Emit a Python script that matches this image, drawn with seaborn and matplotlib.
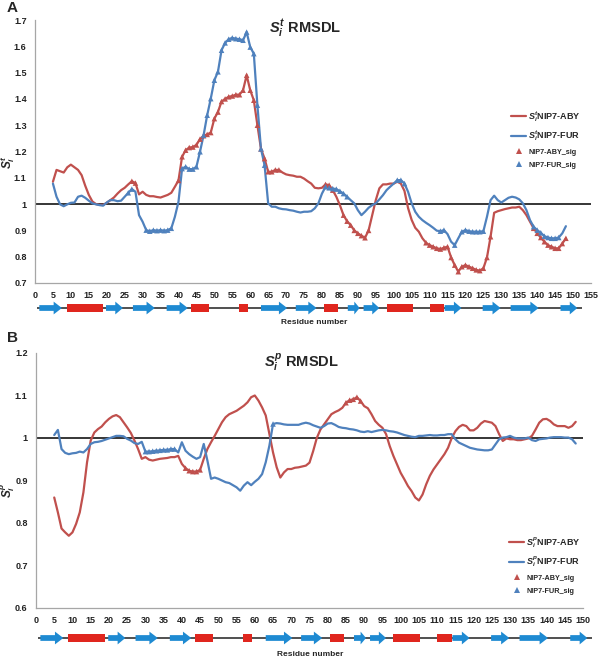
import numpy as np
import pandas as pd
import matplotlib
matplotlib.use("Agg")
import matplotlib.pyplot as plt
import seaborn as sns
from matplotlib.patches import Polygon, Rectangle
from matplotlib.lines import Line2D
from matplotlib.ticker import FuncFormatter, MultipleLocator

sns.set_theme(style="white")
plt.rcParams["font.family"] = ["Liberation Sans", "DejaVu Sans"]
plt.rcParams["font.weight"] = "bold"
plt.rcParams["mathtext.fontset"] = "custom"
plt.rcParams["mathtext.it"] = "Liberation Sans:italic:bold"
plt.rcParams["mathtext.rm"] = "Liberation Sans:bold"
plt.rcParams["mathtext.bf"] = "Liberation Sans:bold"

# ---------------- data ----------------
residues = list(range(5, 149))

a_aby = [1.085, 1.13, 1.125, 1.12, 1.14, 1.15, 1.14, 1.13, 1.11, 1.07,
         1.035, 1.01, 1.0, 0.997, 0.997, 1.005, 1.015, 1.025, 1.04, 1.053,
         1.062, 1.075, 1.087, 1.08, 1.037, 1.047, 1.035, 1.03, 1.03, 1.027,
         1.025, 1.03, 1.035, 1.043, 1.066, 1.09, 1.18, 1.205, 1.215, 1.217,
         1.225, 1.247, 1.26, 1.265, 1.272, 1.325, 1.35, 1.39, 1.40, 1.408,
         1.411, 1.416, 1.416, 1.433, 1.49, 1.433, 1.395, 1.30, 1.21, 1.173,
         1.123, 1.123, 1.13, 1.13, 1.12, 1.113, 1.11, 1.108, 1.104, 1.104,
         1.097, 1.087, 1.078, 1.062, 1.06, 1.062, 1.075, 1.072, 1.053, 1.028,
         0.996, 0.958, 0.935, 0.92, 0.90, 0.889, 0.88, 0.872, 0.90, 0.958,
         1.015, 1.06, 1.075, 1.075, 1.078, 1.078, 1.085, 1.078, 1.05, 0.985,
         0.94, 0.91, 0.895, 0.87, 0.853, 0.844, 0.838, 0.832, 0.829, 0.834,
         0.838, 0.797, 0.768, 0.743, 0.762, 0.768, 0.762, 0.756, 0.75, 0.747,
         0.756, 0.797, 0.876, 0.967, 0.973, 0.977, 0.981, 0.984, 0.987, 0.987,
         0.99, 0.977, 0.958, 0.933, 0.908, 0.889, 0.873, 0.857, 0.844, 0.838,
         0.832, 0.832, 0.85, 0.87]

a_fur = [1.078, 1.028, 0.999, 0.992, 0.999, 1.005, 1.006, 1.028, 1.032, 1.024,
         1.013, 1.003, 0.999, 0.996, 0.994, 1.006, 1.015, 1.015, 1.011, 1.013,
         1.028, 1.043, 1.057, 1.047, 0.958, 0.933, 0.901, 0.897, 0.901, 0.899,
         0.901, 0.899, 0.901, 0.908, 0.952, 1.009, 1.135, 1.142, 1.133, 1.133,
         1.142, 1.199, 1.262, 1.338, 1.401, 1.471, 1.503, 1.585, 1.613, 1.627,
         1.632, 1.629, 1.627, 1.623, 1.654, 1.597, 1.572, 1.376, 1.21, 1.148,
         1.003, 0.99, 0.99, 0.984, 0.981, 0.98, 0.977, 0.975, 0.971, 0.968,
         0.971, 0.971, 0.973, 0.984, 1.003, 1.04, 1.066, 1.062, 1.059, 1.057,
         1.049, 1.04, 1.028, 1.015, 1.003, 0.977, 0.958, 0.971, 0.986, 0.996,
         1.003, 1.018, 1.034, 1.053, 1.066, 1.078, 1.091, 1.091, 1.078, 1.047,
         1.003, 0.971, 0.952, 0.939, 0.929, 0.92, 0.91, 0.899, 0.897, 0.901,
         0.886, 0.857, 0.844, 0.87, 0.895, 0.901, 0.897, 0.895, 0.895, 0.895,
         0.897, 0.952, 1.015, 1.032, 1.015, 1.006, 1.015, 1.024, 1.028, 1.025,
         1.018, 1.003, 0.977, 0.939, 0.914, 0.901, 0.891, 0.878, 0.873, 0.87,
         0.87, 0.873, 0.889, 0.916]

b_aby = [0.860, 0.825, 0.787, 0.778, 0.770, 0.778, 0.798, 0.825, 0.872, 0.943,
         0.994, 1.013, 1.021, 1.027, 1.037, 1.045, 1.051, 1.054, 1.049, 1.037,
         1.025, 1.012, 0.994, 0.974, 0.951, 0.955, 0.949, 0.947, 0.949, 0.951,
         0.952, 0.953, 0.955, 0.955, 0.958, 0.939, 0.929, 0.923, 0.921, 0.921,
         0.925, 0.951, 0.974, 0.99, 1.005, 1.021, 1.037, 1.049, 1.056, 1.06,
         1.064, 1.07, 1.076, 1.084, 1.096, 1.10, 1.088, 1.072, 1.053, 1.009,
         0.966, 0.931, 0.907, 0.919, 0.927, 0.927, 0.93, 0.931, 0.933, 0.935,
         0.942, 0.969, 1.0, 1.02, 1.032, 1.044, 1.056, 1.061, 1.065, 1.071,
         1.083, 1.089, 1.091, 1.096, 1.087, 1.075, 1.07, 1.056, 1.04, 1.031,
         1.024, 1.009, 0.981, 0.958, 0.938, 0.918, 0.903, 0.887, 0.875, 0.86,
         0.853, 0.867, 0.891, 0.911, 0.926, 0.938, 0.95, 0.962, 0.977, 1.0,
         1.016, 1.026, 1.031, 1.028, 1.018, 1.018, 1.024, 1.034, 1.04, 1.038,
         1.036, 1.028, 1.009, 0.993, 0.999, 0.997, 0.997, 0.995, 0.995, 0.997,
         0.999, 1.005, 1.02, 1.036, 1.044, 1.045, 1.04, 1.032, 1.028, 1.028,
         1.028, 1.024, 1.028, 1.038]

b_fur = [1.007, 1.019, 0.974, 0.965, 0.962, 0.964, 0.965, 0.968, 0.966, 0.974,
         0.986, 0.99, 0.991, 0.993, 0.996, 0.999, 1.002, 1.005, 1.005, 1.004,
         0.998, 0.994, 0.988, 0.986, 0.991, 0.968, 0.968, 0.969, 0.970, 0.971,
         0.972, 0.972, 0.974, 0.974, 0.966, 0.99, 0.97, 0.962, 0.956, 0.951,
         0.955, 0.986, 0.947, 0.904, 0.907, 0.904, 0.90, 0.896, 0.894, 0.889,
         0.884, 0.876, 0.888, 0.896, 0.889, 0.897, 0.904, 0.915, 0.943, 0.982,
         1.033, 1.035, 1.034, 1.032, 1.031, 1.031, 1.031, 1.031, 1.034, 1.036,
         1.034, 1.03, 1.027, 1.024, 1.028, 1.034, 1.035, 1.031, 1.026, 1.024,
         1.023, 1.021, 1.02, 1.018, 1.015, 1.014, 1.016, 1.014, 1.016, 1.018,
         1.019, 1.018, 1.016, 1.015, 1.013, 1.01, 1.007, 1.005, 1.003, 1.002,
         1.005, 1.005, 1.006, 1.007, 1.006, 1.006, 1.007, 1.007, 1.009, 1.009,
         0.997, 0.989, 0.985, 0.981, 0.977, 0.975, 0.973, 0.972, 0.971, 0.971,
         0.973, 0.985, 0.997, 1.001, 1.002, 1.005, 1.001, 0.999, 0.999, 0.999,
         1.001, 0.995, 0.993, 0.997, 0.998, 0.999, 1.001, 1.002, 1.002, 1.002,
         1.001, 1.001, 0.997, 0.987]

# residues flagged as significant
a_aby_sig = [27, 28] + list(range(40, 69)) + [81, 82, 83] + list(range(86, 94)) \
    + list(range(109, 128)) + list(range(139, 149))
a_fur_sig = [26, 27] + list(range(31, 39)) + list(range(41, 65)) + list(range(81, 88)) \
    + [101, 102, 103, 113, 114, 117] + list(range(119, 126)) + list(range(139, 147))
b_aby_sig = list(range(41, 46)) + list(range(85, 90))
b_fur_sig = list(range(30, 39)) + [65]

# secondary structure elements (residue start, end)
strands = [(1.2, 7.5), (19.8, 24.5), (27.3, 33.4), (36.7, 42.6), (63.0, 70.3),
           (72.7, 78.5), (87.2, 90.5), (91.6, 96.0), (114.2, 118.9), (124.8, 129.8),
           (132.6, 140.4), (146.5, 151.2)]
helices = [(8.9, 19.0), (43.5, 48.5), (56.8, 59.3), (80.5, 84.4), (98.0, 105.3),
           (110.0, 114.0)]
ss_span = (0.6, 152.4)

RED = "#C0504D"
BLUE = "#4F81BD"
ARROW_BLUE = "#1E8AD2"
HELIX_RED = "#E0261E"

W, H = 600, 663
fig = plt.figure(figsize=(W / 100, H / 100), dpi=100)


def fbox(x0, y0, x1, y1):
    return [x0 / W, 1 - y1 / H, (x1 - x0) / W, (y1 - y0) / H]


def draw_panel(ax, aby, fur, aby_sig, fur_sig, xmax, ylim, sup, title_xy, legend_xy):
    df = pd.DataFrame({"residue": residues * 2,
                       "value": aby + fur,
                       "series": ["ABY"] * len(residues) + ["FUR"] * len(residues)})
    sns.lineplot(data=df, x="residue", y="value", hue="series",
                 palette={"ABY": RED, "FUR": BLUE}, linewidth=1.6,
                 legend=False, ax=ax, zorder=3)
    lookup_a = dict(zip(residues, aby))
    lookup_f = dict(zip(residues, fur))
    sa = pd.DataFrame({"residue": aby_sig, "value": [lookup_a[r] for r in aby_sig]})
    sf = pd.DataFrame({"residue": fur_sig, "value": [lookup_f[r] for r in fur_sig]})
    sns.scatterplot(data=sa, x="residue", y="value", marker="^", s=16, color=RED,
                    edgecolor="none", legend=False, ax=ax, zorder=4)
    sns.scatterplot(data=sf, x="residue", y="value", marker="^", s=16, color=BLUE,
                    edgecolor="none", legend=False, ax=ax, zorder=4)
    ax.axhline(1.0, color="black", lw=1.1, zorder=2)
    ax.set_xlim(0, xmax)
    ax.set_ylim(*ylim)
    ax.xaxis.set_major_locator(MultipleLocator(5))
    ax.yaxis.set_major_locator(MultipleLocator(0.1))
    ax.yaxis.set_major_formatter(FuncFormatter(lambda v, p: f"{v:g}"))
    ax.set_xlabel("")
    ax.set_ylabel("")
    for s in ["top", "right"]:
        ax.spines[s].set_visible(False)
    for s in ["left", "bottom"]:
        ax.spines[s].set_color("#A6A6A6")
        ax.spines[s].set_linewidth(0.9)
    ax.tick_params(axis="both", direction="out", length=3, width=0.8,
                   color="#A6A6A6", labelsize=6.5, pad=3, labelcolor="#222222")
    for lab in ax.get_xticklabels() + ax.get_yticklabels():
        lab.set_fontweight("bold")
    ax.text(title_xy[0], title_xy[1], rf"$S^{{{sup}}}_{{i}}$ RMSDL",
            transform=fig.transFigure, ha="center", va="center",
            fontsize=10.5, fontweight="bold")
    handles = [Line2D([], [], color=RED, lw=1.6, label=rf"$S^{{{sup}}}_{{i}}$NIP7-ABY"),
               Line2D([], [], color=BLUE, lw=1.6, label=rf"$S^{{{sup}}}_{{i}}$NIP7-FUR"),
               Line2D([], [], color=RED, marker="^", ls="", markersize=4,
                      markeredgewidth=0, label="NIP7-ABY_sig"),
               Line2D([], [], color=BLUE, marker="^", ls="", markersize=4,
                      markeredgewidth=0, label="NIP7-FUR_sig")]
    leg = ax.legend(handles=handles, loc="upper left",
                    bbox_to_anchor=(legend_xy[0] / W, 1 - legend_xy[1] / H),
                    bbox_transform=fig.transFigure, frameon=False,
                    fontsize=6.5, handlelength=1.7, handletextpad=0.2,
                    labelspacing=0.5, borderpad=0, borderaxespad=0)
    for i, t in enumerate(leg.get_texts()):
        t.set_fontweight("bold")
        if i >= 2:
            t.set_fontsize(5.2)


def draw_ss(ax, xmax):
    ax.set_xlim(0, xmax)
    ax.set_ylim(-1, 1)
    ax.axis("off")
    ax.plot(list(ss_span), [0, 0], color="#505050", lw=1.4, zorder=1,
            solid_capstyle="butt", clip_on=False)
    for s, e in strands:
        hl = min(2.3, (e - s) * 0.45)
        h1, h2 = 0.36, 0.8
        pts = [(s, -h1), (e - hl, -h1), (e - hl, -h2), (e, 0),
               (e - hl, h2), (e - hl, h1), (s, h1)]
        ax.add_patch(Polygon(pts, closed=True, facecolor=ARROW_BLUE,
                             edgecolor="none", zorder=2, clip_on=False))
    for s, e in helices:
        ax.add_patch(Rectangle((s, -0.55), e - s, 1.1, facecolor=HELIX_RED,
                               edgecolor="none", zorder=2, clip_on=False))


# Panel A
axA = fig.add_axes(fbox(35, 20, 591, 283))
draw_panel(axA, a_aby, a_fur, a_aby_sig, a_fur_sig, 155, (0.7, 1.7), "t",
           (305 / W, 1 - 28 / H), (511, 109))
ssA = fig.add_axes(fbox(35, 300, 591, 316))
draw_ss(ssA, 155)

# Panel B
axB = fig.add_axes(fbox(36, 353, 583, 608))
draw_panel(axB, b_aby, b_fur, b_aby_sig, b_fur_sig, 150, (0.6, 1.2), "p",
           (301 / W, 1 - 363 / H), (509, 535))
ssB = fig.add_axes(fbox(36, 630, 583, 646))
draw_ss(ssB, 150)

# labels
fig.text(314 / W, 1 - 322 / H, "Residue number", ha="center", va="center",
         fontsize=6, fontweight="bold")
fig.text(310 / W, 1 - 655 / H, "Residue number", ha="center", va="center",
         fontsize=6, fontweight="bold")
fig.text(8 / W, 1 - 162 / H, r"$S^{t}_{i}$", rotation=90, ha="center",
         va="center", fontsize=8.5)
fig.text(8 / W, 1 - 490 / H, r"$S^{p}_{i}$", rotation=90, ha="center",
         va="center", fontsize=8.5)
fig.text(7 / W, 1 - 8 / H, "A", ha="left", va="center", fontsize=11,
         fontweight="bold")
fig.text(7 / W, 1 - 338 / H, "B", ha="left", va="center", fontsize=11,
         fontweight="bold")

fig.savefig("out.png", dpi=100, facecolor="white")
